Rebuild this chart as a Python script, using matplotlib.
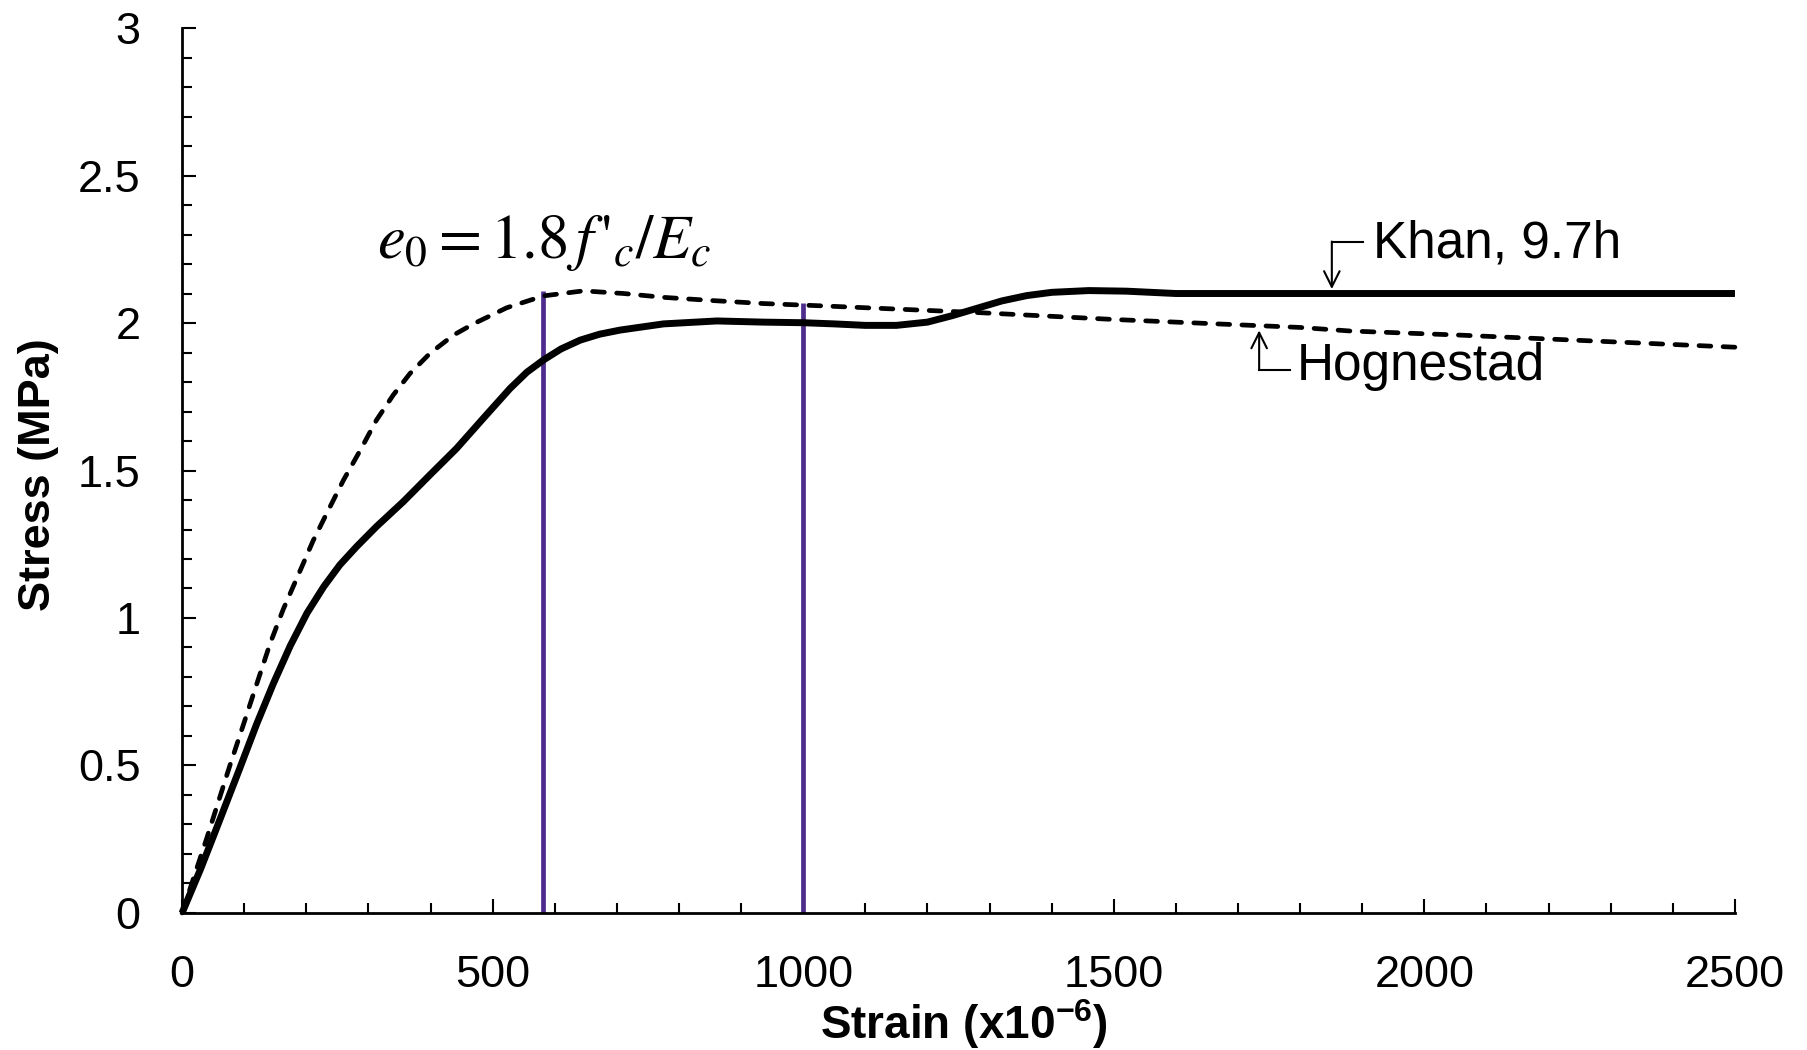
import numpy as np
import matplotlib.pyplot as plt
from matplotlib.ticker import MultipleLocator

plt.rcParams['font.family'] = ['Liberation Sans', 'DejaVu Sans']
plt.rcParams['mathtext.fontset'] = 'custom'
plt.rcParams['mathtext.rm'] = 'Liberation Sans'
plt.rcParams['mathtext.bf'] = 'Liberation Sans:bold'
plt.rcParams['mathtext.it'] = 'Liberation Sans:italic'

# ── Data ──────────────────────────────────────────────────────────────────────
khan_strain = [0, 30, 56, 91, 120, 147, 174, 201, 228, 254, 281, 313, 356, 399,
               442, 485, 528, 555, 582, 610, 641, 672, 705, 775, 861, 936,
               1000, 1050, 1100, 1150, 1200, 1240, 1280, 1320, 1360, 1400,
               1460, 1520, 1600, 2000, 2500]
khan_stress = [0, 0.15, 0.29, 0.48, 0.64, 0.778, 0.905, 1.016, 1.106, 1.18,
               1.242, 1.31, 1.394, 1.485, 1.575, 1.677, 1.778, 1.833, 1.875,
               1.912, 1.942, 1.962, 1.976, 1.997, 2.007, 2.003, 2.001, 1.997,
               1.992, 1.992, 2.003, 2.025, 2.05, 2.075, 2.093, 2.104, 2.11,
               2.108, 2.10, 2.10, 2.10]

hog_strain = [0, 18, 40, 77, 99, 120, 142, 163, 190, 211, 233, 260, 287, 313,
              340, 367, 399, 437, 469, 523, 582, 646, 711, 775, 855, 936, 1032,
              1285, 1500, 1800, 1880, 2057, 2500]
hog_stress = [0, 0.115, 0.255, 0.50, 0.64, 0.775, 0.915, 1.03, 1.16, 1.262,
              1.355, 1.468, 1.569, 1.671, 1.756, 1.829, 1.897, 1.959, 1.997,
              2.052, 2.092, 2.109, 2.100, 2.087, 2.076, 2.066, 2.058, 2.035,
              2.012, 1.985, 1.973, 1.959, 1.918]

# strain markers for e0 (vertical lines up to the curve)
e0_strain = [581, 1000]
e0_stress = [2.108, 2.068]

PURPLE = "#4D2C8C"


def main():
    fig = plt.figure(figsize=(18.08, 10.5), dpi=100)
    ax = fig.add_axes([0.1007, 0.1305, 0.8589, 0.8428])

    ax.vlines(e0_strain, 0, e0_stress, color=PURPLE, lw=3.4, zorder=2)
    ax.plot(hog_strain, hog_stress, color="black", lw=3.4,
            linestyle=(0, (2.5, 2.6)), dash_capstyle="round", zorder=3,
            clip_on=False)
    ax.plot(khan_strain, khan_stress, color="black", lw=5,
            solid_capstyle="butt", solid_joinstyle="round", zorder=4,
            clip_on=False)

    # ── Axes styling ──────────────────────────────────────────────────────
    ax.set_xlim(0, 2500)
    ax.set_ylim(0, 3)
    ax.xaxis.set_major_locator(MultipleLocator(500))
    ax.xaxis.set_minor_locator(MultipleLocator(100))
    ax.yaxis.set_major_locator(MultipleLocator(0.5))
    ax.yaxis.set_minor_locator(MultipleLocator(0.1))
    ax.set_yticks([0, 0.5, 1, 1.5, 2, 2.5, 3])
    ax.set_yticklabels(["0", "0.5", "1", "1.5", "2", "2.5", "3"])

    for side in ("top", "right"):
        ax.spines[side].set_visible(False)
    for side in ("left", "bottom"):
        ax.spines[side].set_linewidth(2)

    ax.tick_params(which="major", direction="in", length=10, width=1.5,
                   labelsize=32.5)
    ax.tick_params(axis="y", which="major", pad=30)
    ax.tick_params(axis="x", which="major", pad=30)
    ax.tick_params(which="minor", direction="in", length=7.5, width=1.5)

    ax.set_xlabel(r"Strain (x10$^{\mathbf{-6}}$)", fontsize=33,
                  fontweight="bold", labelpad=0)
    ax.set_ylabel("Stress (MPa)", fontsize=32.5, fontweight="bold")
    ax.xaxis.set_label_coords(0.5035, -0.095)
    ax.yaxis.set_label_coords(-0.079, 0.495)

    # ── Annotations ───────────────────────────────────────────────────────
    ax.text(314, 2.22, r"$e_0 = 1.8\,f\,'_c/E_c$", fontsize=45,
            math_fontfamily="stix", ha="left", va="baseline")

    ax.text(1917, 2.268, "Khan, 9.7h", fontsize=37, ha="left", va="center")
    ax.plot([1901, 1851], [2.276, 2.276], color="black", lw=1.5)
    ax.annotate("", xy=(1851, 2.115), xytext=(1851, 2.276),
                arrowprops=dict(arrowstyle="->", lw=1.5, color="black",
                                mutation_scale=28, shrinkA=0, shrinkB=0))

    ax.text(1795, 1.851, "Hognestad", fontsize=37, ha="left", va="center")
    ax.plot([1784, 1734], [1.841, 1.841], color="black", lw=1.5)
    ax.annotate("", xy=(1734, 1.975), xytext=(1734, 1.841),
                arrowprops=dict(arrowstyle="->", lw=1.5, color="black",
                                mutation_scale=28, shrinkA=0, shrinkB=0))

    fig.savefig("out.png", dpi=100)


if __name__ == "__main__":
    main()
